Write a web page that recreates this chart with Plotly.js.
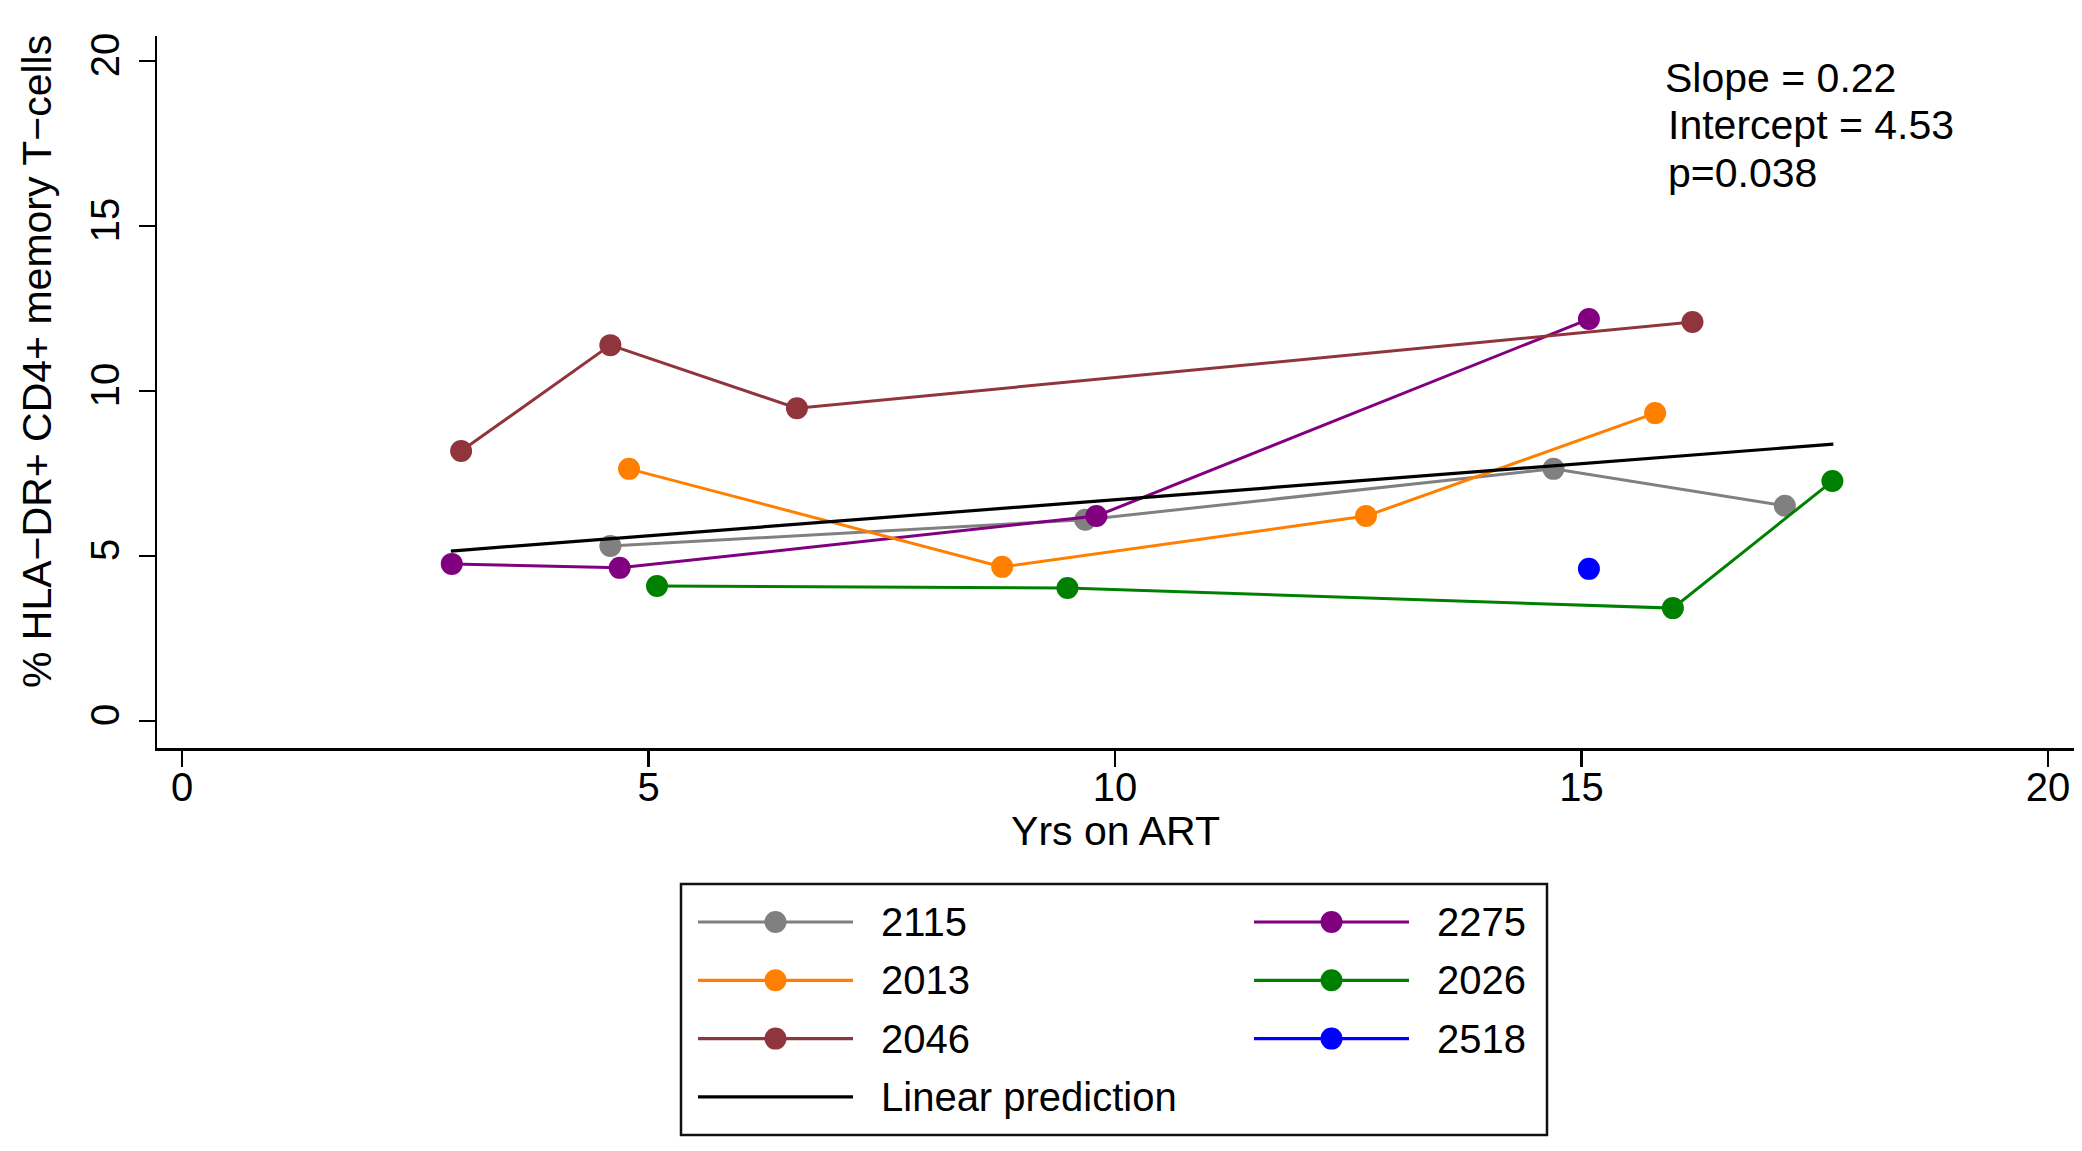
<!DOCTYPE html>
<html>
<head>
<meta charset="utf-8">
<script src="https://cdn.plot.ly/plotly-3.0.1.min.js"></script>
<style>html,body{margin:0;padding:0;background:#fff;}#chart{width:2082px;height:1151px;}</style>
</head>
<body>
<div id="chart"></div>
<script>
// ---- data ----
const seriesNames = ['2115', '2275', '2013', '2026', '2046', '2518'];
const years2115 = [4.59, 9.68, 14.70, 17.18];
const vals2115  = [5.30, 6.10, 7.64, 6.52];
const years2275 = [2.89, 4.69, 9.80, 15.08];
const vals2275  = [4.76, 4.64, 6.21, 12.18];
const years2013 = [4.79, 8.79, 12.69, 15.79];
const vals2013  = [7.64, 4.67, 6.21, 9.33];
const years2026 = [5.09, 9.49, 15.98, 17.69];
const vals2026  = [4.09, 4.03, 3.42, 7.27];
const years2046 = [2.99, 4.59, 6.59, 16.19];
const vals2046  = [8.18, 11.39, 9.48, 12.09];
const years2518 = [15.08];
const vals2518  = [4.61];
const linearName = 'Linear prediction';
const linearYears = [2.88, 17.70];
const linearVals  = [5.15, 8.39];
const tickValues = [0, 5, 10, 15, 20];
const statLines = ['Slope = 0.22', 'Intercept = 4.53', 'p=0.038'];
const xTitle = 'Yrs on ART';
const yTitle = '% HLA\u2212DR+ CD4+ memory T\u2212cells';

// ---- styles ----
const seriesColors = ['#808080', '#800080', '#FF8000', '#008000', '#90353B', '#0000FF'];
const seriesX = [years2115, years2275, years2013, years2026, years2046, years2518];
const seriesY = [vals2115, vals2275, vals2013, vals2026, vals2046, vals2518];
const FONT = '"Liberation Sans", Arial, Helvetica, sans-serif';
const W = 2082, H = 1151;
const plotL = 157, plotR = 2074, plotT = 36, plotB = 748;

const traces = [];
seriesNames.forEach((name, i) => {
  traces.push({
    type: 'scatter', mode: 'lines+markers', name: name,
    x: seriesX[i], y: seriesY[i],
    line: {color: seriesColors[i], width: 3},
    marker: {color: seriesColors[i], size: 22, opacity: 1},
    cliponaxis: false, showlegend: false, xaxis: 'x', yaxis: 'y'
  });
});
traces.push({
  type: 'scatter', mode: 'lines', name: linearName,
  x: linearYears, y: linearVals,
  line: {color: '#000000', width: 3.2},
  showlegend: false, xaxis: 'x', yaxis: 'y'
});

// ---- custom legend drawn in a pixel-space overlay subplot ----
const legBox = {x0: 681, x1: 1547, y0: 884, y1: 1135};
const legLineX0 = 698, legColStep = 556, legLineLen = 155, legTextDx = 181;
const legRowY0 = 922, legRowStep = 58.3;
const legendEntries = seriesNames.map((n, i) => ({name: n, color: seriesColors[i], marker: true}));
legendEntries.push({name: linearName, color: '#000000', marker: false});

const annotations = [];
legendEntries.forEach((e, i) => {
  const col = i % 2, row = Math.floor(i / 2);
  const x0 = legLineX0 + col * legColStep;
  const yy = legRowY0 + row * legRowStep;
  traces.push({
    type: 'scatter', mode: 'lines',
    x: [x0, x0 + legLineLen], y: [yy, yy],
    line: {color: e.color, width: 3.2},
    showlegend: false, hoverinfo: 'skip', xaxis: 'x2', yaxis: 'y2'
  });
  if (e.marker) {
    traces.push({
      type: 'scatter', mode: 'markers',
      x: [x0 + legLineLen / 2], y: [yy],
      marker: {color: e.color, size: 22, opacity: 1},
      showlegend: false, hoverinfo: 'skip', xaxis: 'x2', yaxis: 'y2'
    });
  }
  annotations.push({
    xref: 'x2', yref: 'y2', x: x0 + legTextDx, y: yy,
    xanchor: 'left', yanchor: 'middle', showarrow: false,
    text: e.name, font: {family: FONT, size: 40, color: '#000'}
  });
});

// y-axis title (placed as in the reference, centred slightly above the axis middle)
annotations.push({
  xref: 'x2', yref: 'y2', x: 37, y: 362, textangle: -90,
  xanchor: 'center', yanchor: 'middle', showarrow: false,
  text: yTitle, font: {family: FONT, size: 41, color: '#000'}
});

// stats text
const statX = [15.87, 15.91, 15.91];
const statY = [19.48, 18.06, 16.62];
statLines.forEach((t, i) => {
  annotations.push({
    xref: 'x', yref: 'y', x: statX[i], y: statY[i],
    xanchor: 'left', yanchor: 'middle', showarrow: false,
    text: t, font: {family: FONT, size: 41, color: '#000'}
  });
});

const axisCommon = {
  showgrid: false, zeroline: false, showline: true, linecolor: '#000', linewidth: 2.5,
  ticks: 'outside', ticklen: 16, tickwidth: 2.5, tickcolor: '#000',
  tickmode: 'array', tickvals: tickValues, ticktext: tickValues.map(String),
  tickfont: {family: FONT, size: 40, color: '#000'}
};

const layout = {
  width: W, height: H,
  margin: {l: 0, r: 0, t: 0, b: 0, pad: 0},
  paper_bgcolor: '#fff', plot_bgcolor: 'rgba(0,0,0,0)',
  showlegend: false,
  xaxis: Object.assign({}, axisCommon, {
    domain: [plotL / W, plotR / W], range: [-0.27, 20.28], anchor: 'y',
    ticklabelstandoff: -14,
    title: {text: xTitle, font: {family: FONT, size: 41, color: '#000'}, standoff: 6}
  }),
  yaxis: Object.assign({}, axisCommon, {
    domain: [1 - plotB / H, 1 - plotT / H], range: [-0.82, 20.76], anchor: 'x',
    tickangle: -90, ticklabelstandoff: 4
  }),
  xaxis2: {domain: [0, 1], range: [0, W], visible: false, anchor: 'y2', fixedrange: true},
  yaxis2: {domain: [0, 1], range: [H, 0], visible: false, anchor: 'x2', fixedrange: true},
  shapes: [{
    type: 'rect', xref: 'x2', yref: 'y2',
    x0: legBox.x0, x1: legBox.x1, y0: legBox.y0, y1: legBox.y1,
    line: {color: '#111', width: 2.5}, fillcolor: 'rgba(0,0,0,0)'
  }],
  annotations: annotations
};

Plotly.newPlot('chart', traces, layout, {staticPlot: true, displayModeBar: false});
</script>
</body>
</html>
